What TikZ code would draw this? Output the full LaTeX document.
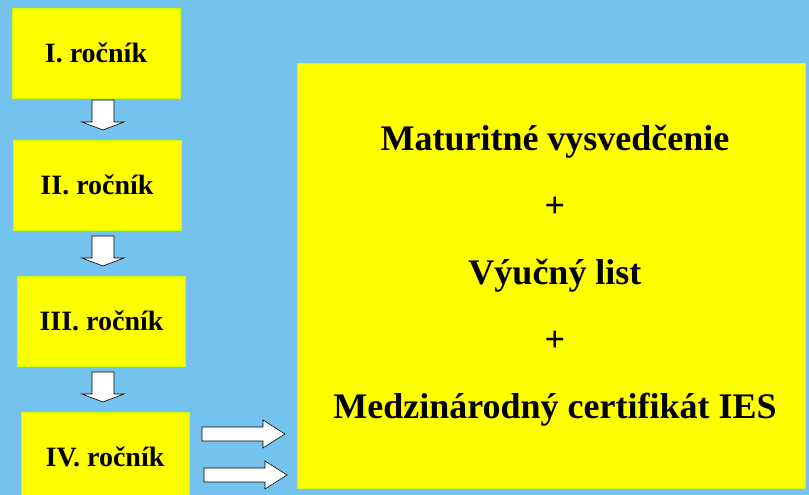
\documentclass[tikz,border=0pt]{standalone}
\usepackage{fontspec}
\setmainfont{Liberation Serif}

\definecolor{bgblue}{RGB}{115,195,238}
\definecolor{boxyellow}{RGB}{255,255,0}

\tikzset{
	rocnik/.style={fill=boxyellow, draw=boxyellow!80!green, minimum width=168pt, minimum height=90pt, inner sep=0pt, font=\bfseries\fontsize{28}{30}\selectfont},
	barrow/.style={fill=white, draw=black, line width=0.6pt, line join=miter}
}

\begin{document}
\begin{tikzpicture}[x=1pt,y=-1pt]
		\fill[bgblue] (0,0) rectangle (809,495);
		\useasboundingbox (0,0) rectangle (809,495);

		% rocniky
		\node[rocnik] (r1) at (96,53) {I. ročník};
		\node[rocnik] (r2) at (97,185) {II. ročník};
		\node[rocnik] (r3) at (101.5,321) {III. ročník};
		\node[rocnik] (r4) at (105,457) {IV. ročník};

		% vysledok
		\node[fill=boxyellow, draw=boxyellow!80!green, minimum width=508pt, minimum height=425pt, inner sep=0pt] (cert) at (551,275.5) {};
		\node[align=center, font=\bfseries\fontsize{36}{67}\selectfont] (txt) at (555,276) {Maturitné vysvedčenie\\+\\Výučný list\\+\\Medzinárodný certifikát IES};

		% sipky dole
		\foreach \t in {100,236,372}
		\draw[barrow] (92,\t)--(114,\t)--(114,\t+22)--(124,\t+22)--(103,\t+30)--(82,\t+22)--(92,\t+22)--cycle;

		% sipky doprava
		\foreach \x/\y in {202/434,204/475}
		\draw[barrow] (\x,\y-7)--(\x+61,\y-7)--(\x+61,\y-14)--(\x+83,\y)--(\x+61,\y+14)--(\x+61,\y+7)--(\x,\y+7)--cycle;
	\end{tikzpicture}
\end{document}
